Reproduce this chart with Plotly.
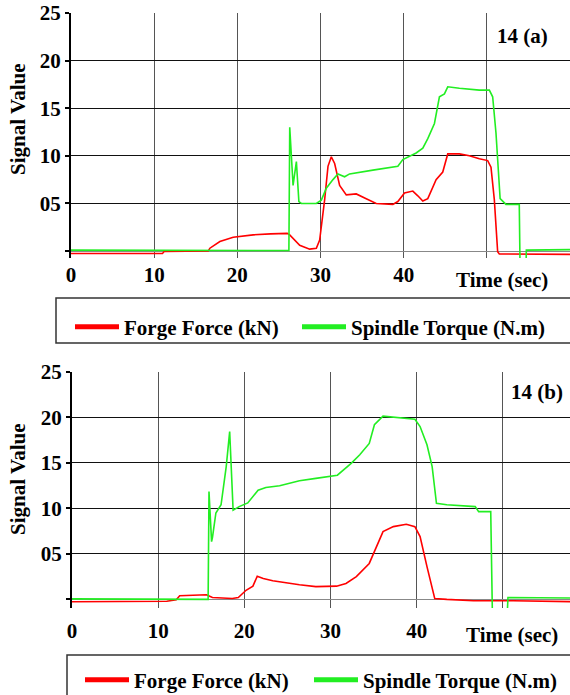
import plotly.graph_objects as go

# ---------------- data ----------------
# Panel 14(a)
force_a_t = [0, 11, 11.2, 16.5, 16.7, 17.9, 19.5, 21.9, 24, 26, 26.3, 27.5, 28.7, 29.5, 29.9,
             30.5, 30.9, 31.3, 31.7, 32.3, 33.1, 34.3, 35.5, 36.7, 38.7, 39.3, 40.1, 41.1, 41.7,
             42.3, 42.9, 43.9, 44.7, 45.3, 46.7, 47.9, 49.1, 50.1, 50.5, 50.9, 51.3, 51.5, 60]
force_a = [-0.25, -0.25, -0.05, 0, 0.3, 1.0, 1.45, 1.7, 1.8, 1.85, 1.7, 0.6, 0.2, 0.3, 1.15,
           5.4, 8.9, 9.9, 9.2, 6.9, 5.9, 6.0, 5.5, 5.0, 4.9, 5.2, 6.1, 6.3, 5.8,
           5.25, 5.5, 7.5, 8.3, 10.2, 10.2, 10.0, 9.7, 9.5, 8.8, 5.4, -0.07, -0.3, -0.35]

torque_a_t = [0, 26.1, 26.2, 26.3, 26.7, 27.1, 27.4, 27.7, 29.5, 30.1, 30.7, 31.5, 32.1, 32.9,
              33.5, 36.3, 39.3, 39.9, 41.5, 42.3, 42.9, 43.7, 44.3, 44.9, 45.3, 46.7, 49.1, 50.3,
              50.7, 51.1, 51.4, 51.6, 52.3, 53.9, 54.0, 54.7, 54.75, 60]
torque_a = [0.1, 0.1, 0.05, 13.0, 6.9, 9.4, 5.2, 5.0, 5.0, 5.35, 6.6, 7.5, 8.1, 7.8,
            8.1, 8.5, 8.9, 9.6, 10.3, 10.8, 11.8, 13.4, 16.2, 16.5, 17.25, 17.1, 16.9, 16.9,
            16.2, 12.4, 8.8, 5.5, 4.9, 4.9, -2, -2, 0.1, 0.15]

# Panel 14(b)
force_b_t = [0, 11, 12.1, 12.5, 15.6, 16.3, 18.6, 19.3, 20.2, 21.0, 21.5, 22.2, 23.3, 24.5, 26.4,
             28.3, 30.7, 31.8, 33.0, 34.5, 35.3, 36.1, 37.3, 38.8, 39.8, 40.4, 41.2, 42.1, 43.5,
             46.6, 51.2, 58]
force_b = [-0.26, -0.2, -0.05, 0.4, 0.5, 0.2, 0.1, 0.2, 1.0, 1.45, 2.55, 2.3, 2.05, 1.85, 1.6,
           1.4, 1.45, 1.75, 2.5, 3.95, 5.8, 7.45, 8.0, 8.25, 8.0, 6.9, 3.6, 0.1, 0.0,
           -0.15, -0.15, -0.25]

torque_b_t = [0, 15.7, 15.8, 15.9, 16.2, 16.3, 16.7, 17.3, 17.9, 18.3, 18.7, 19.4, 20.4, 21.6,
              22.5, 24.1, 26.4, 28.3, 29.9, 30.8, 32.4, 33.4, 34.5, 35.1, 36.1, 37.7, 39.8, 40.4,
              41.2, 41.8, 42.3, 43.5, 46.2, 46.8, 47.2, 48.6, 48.8, 50.5, 50.6, 58]
torque_b = [0.05, 0.05, 0.0, 11.85, 6.35, 6.8, 9.5, 10.4, 14.6, 18.45, 9.8, 10.2, 10.6, 12.0,
            12.3, 12.5, 13.05, 13.3, 13.55, 13.65, 14.95, 15.9, 17.15, 19.2, 20.15, 20.0, 19.8, 19.0,
            17.0, 14.6, 10.55, 10.4, 10.2, 10.2, 9.65, 9.65, -2, -2, 0.2, 0.15]

x_tick_vals = [0, 10, 20, 30, 40, 50, 60]
x_tick_text = ["0", "10", "20", "30", "40", "", ""]
y_tick_vals = [0, 5, 10, 15, 20, 25]
y_tick_text = ["", "05", "10", "15", "20", "25"]

series_names = ["Forge Force (kN)", "Spindle Torque (N.m)"]
panel_labels = ["14 (a)", "14 (b)"]

# ---------------- figure ----------------
W, H = 570, 695
RED, GREEN = "#ff0000", "#22ee22"
FONT = "Liberation Serif"


def fx(p):
    return p / W


def fy(p):
    return 1 - p / H


fig = go.Figure()
fig.add_trace(go.Scatter(x=force_a_t, y=force_a, mode="lines", name=series_names[0],
                         line=dict(color=RED, width=1.6), xaxis="x", yaxis="y", legend="legend"))
fig.add_trace(go.Scatter(x=torque_a_t, y=torque_a, mode="lines", name=series_names[1],
                         line=dict(color=GREEN, width=1.6), xaxis="x", yaxis="y", legend="legend3"))
fig.add_trace(go.Scatter(x=force_b_t, y=force_b, mode="lines", name=series_names[0],
                         line=dict(color=RED, width=1.6), xaxis="x2", yaxis="y2", legend="legend2"))
fig.add_trace(go.Scatter(x=torque_b_t, y=torque_b, mode="lines", name=series_names[1],
                         line=dict(color=GREEN, width=1.6), xaxis="x2", yaxis="y2", legend="legend4"))

tickfont = dict(family=FONT, size=21, color="black", weight="bold")

xcommon = dict(tickvals=x_tick_vals, ticktext=x_tick_text, showgrid=True, gridcolor="#555",
               gridwidth=1, zeroline=False, showline=False, ticks="", tickfont=tickfont)
ycommon = dict(tickvals=y_tick_vals, ticktext=y_tick_text, showgrid=True, gridcolor="#111",
               gridwidth=1, zeroline=True, zerolinecolor="#888", zerolinewidth=1,
               showline=True, linecolor="black", linewidth=2, ticks="outside", ticklen=4,
               tickcolor="black", tickwidth=1.5, tickfont=tickfont)

legend_common = dict(orientation="h", xanchor="left", yanchor="middle",
                     font=dict(family=FONT, size=21, color="black", weight="bold"),
                     bgcolor="rgba(0,0,0,0)", borderwidth=0, itemwidth=44,
                     itemsizing="constant", itemclick=False, itemdoubleclick=False)

fig.update_layout(
    width=W, height=H, margin=dict(l=0, r=0, t=0, b=0, autoexpand=False),
    paper_bgcolor="white", plot_bgcolor="white", showlegend=True,
    xaxis=dict(domain=[fx(71), 1], range=[0, 60], anchor="y", ticklabelstandoff=2, **xcommon),
    yaxis=dict(domain=[fy(258), fy(13)], range=[-0.73, 25], anchor="x", **ycommon),
    xaxis2=dict(domain=[fx(72), 1], range=[0, 57.8], anchor="y2", ticklabelstandoff=8, **xcommon),
    yaxis2=dict(domain=[fy(608), fy(372)], range=[-0.95, 25], anchor="x2", **ycommon),
    legend=dict(x=fx(70), y=fy(327), **legend_common),
    legend3=dict(x=fx(297), y=fy(327), **legend_common),
    legend2=dict(x=fx(80), y=fy(680), **legend_common),
    legend4=dict(x=fx(309), y=fy(680), **legend_common),
    shapes=[
        dict(type="rect", xref="paper", yref="paper", x0=fx(56), x1=fx(600), y0=fy(343), y1=fy(298),
             line=dict(color="#333", width=1.5), fillcolor="rgba(0,0,0,0)", layer="below"),
        dict(type="rect", xref="paper", yref="paper", x0=fx(67), x1=fx(600), y0=fy(730), y1=fy(655),
             line=dict(color="#333", width=1.5), fillcolor="rgba(0,0,0,0)", layer="below"),
    ],
)

ann_font = dict(family=FONT, size=21, color="black", weight="bold")
annotations = [
    dict(text="Signal Value", x=fx(18), y=fy(120), textangle=-90),
    dict(text="Signal Value", x=fx(18), y=fy(480), textangle=-90),
    dict(text="Time (sec)", x=fx(502), y=fy(280)),
    dict(text="Time (sec)", x=fx(512), y=fy(635)),
    dict(text=panel_labels[0], x=fx(522), y=fy(36)),
    dict(text=panel_labels[1], x=fx(537), y=fy(392)),
]
for a in annotations:
    fig.add_annotation(xref="paper", yref="paper", xanchor="center", yanchor="middle",
                       showarrow=False, font=ann_font, **a)

fig.write_html("out.html")
